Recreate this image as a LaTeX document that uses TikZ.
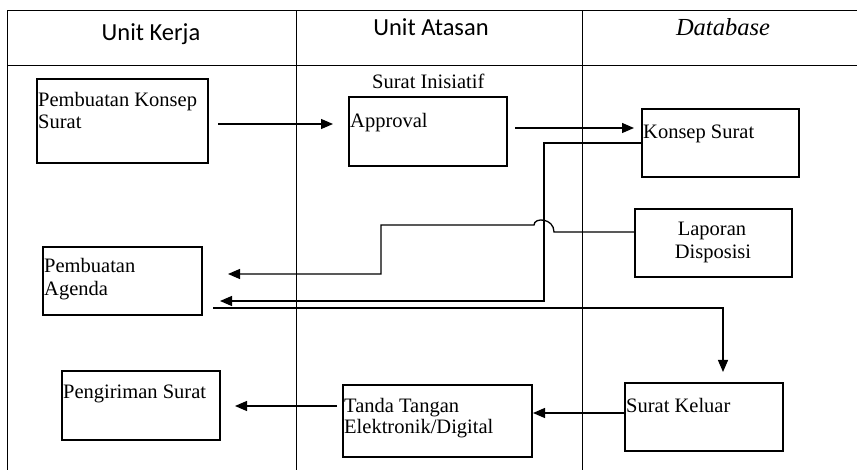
\documentclass[tikz,border=0pt]{standalone}
\usepackage{fontspec}
\setmainfont{Liberation Serif}
\newfontfamily\hdrfont{Carlito}
\usetikzlibrary{calc,arrows.meta}
\begin{document}
\begin{tikzpicture}[x=1pt,y=-1pt,
  box/.style={draw,line width=1.2pt,inner sep=0pt,outer sep=0pt},
  txt/.style={inner sep=0pt,anchor=base west,font=\fontsize{20.5}{23}\selectfont},
  txtc/.style={inner sep=0pt,anchor=base,font=\fontsize{20.5}{23}\selectfont},
  hdr/.style={inner sep=0pt,anchor=base,font=\hdrfont\fontsize{24.5}{28}\selectfont},
  hdri/.style={inner sep=0pt,anchor=base,font=\itshape\fontsize{24.5}{28}\selectfont},
  frame/.style={line width=1pt},
  conn/.style={line width=1.3pt},
  arr/.style={conn,-{Triangle[length=12pt,width=10pt]}}]
\useasboundingbox (0,0) rectangle (857,470);
% swimlane frame
\draw[frame] (7,11) -- (857,11);
\draw[frame] (7,66) -- (857,66);
\draw[frame] (7,11) -- (7,470);
\draw[frame] (296,11) -- (296,470);
\draw[frame] (582,11) -- (582,470);
\node[hdr] (h1) at (151,41) {Unit Kerja};
\node[hdr] (h2) at (431,36) {Unit Atasan};
\node[hdri] (h3) at (723,36) {Database};
% boxes
\node[box,minimum width=171pt,minimum height=84pt] (pk) at (122.5,121) {};
\node[box,minimum width=158pt,minimum height=69pt] (ap) at (428,131.5) {};
\node[box,minimum width=157pt,minimum height=68pt] (ks) at (720.5,143) {};
\node[box,minimum width=157pt,minimum height=68pt] (ld) at (713.5,243) {};
\node[box,minimum width=159pt,minimum height=68pt] (pa) at (122.5,281) {};
\node[box,minimum width=158pt,minimum height=69pt] (ps) at (141,405.5) {};
\node[box,minimum width=189pt,minimum height=72pt] (tt) at (437.5,421) {};
\node[box,minimum width=158pt,minimum height=68pt] (sk) at (704,417) {};
% texts
\node[txt] (pkt1) at (38,107) {Pembuatan Konsep};
\node[txt] (pkt2) at (38,129) {Surat};
\node[txt] (sit) at (372,89) {Surat Inisiatif};
\node[txt] (apt) at (350,128) {Approval};
\node[txt] (kst) at (643,139) {Konsep Surat};
\node[txtc] (ldt1) at (712,236) {Laporan};
\node[txtc] (ldt2) at (713,259) {Disposisi};
\node[txt] (pat1) at (44,273) {Pembuatan};
\node[txt] (pat2) at (44,296) {Agenda};
\node[txt] (pst) at (63,398) {Pengiriman Surat};
\node[txt] (ttt1) at (344,412) {Tanda Tangan};
\node[txt] (ttt2) at (344,433) {Elektronik/Digital};
\node[txt] (skt) at (626,412) {Surat Keluar};
% connectors
\draw[arr] ($(pk.east)+(10,3)$) -- ($(pk.east -| ap.west)+(-16,3)$);
\draw[arr] ($(ap.east)+(8,-3.5)$) -- ($(ap.east -| ks.west)+(-8,-3.5)$);
\coordinate (kv) at ($(ks.west)+(-98,0)$);
\draw[arr] (ks.west) -- (kv) |- ($(pa.east)+(18,20)$);
\coordinate (hr) at ($(kv |- ld.west)+(10,-11)$);
\coordinate (hl) at ($(kv |- ld.west)+(-10,-18)$);
\coordinate (lv) at ($(pa.east)+(179,0)$);
\draw[arr] ($(ld.west)+(0,-11)$) -- (hr) .. controls +(0,-14) and +(0,-8) .. (hl)
  -- (lv |- hl) |- ($(pa.east)+(26,-7)$);
\draw[arr] ($(pa.east)+(11,27)$) -| ($(sk.north)+(19,-11)$);
\draw[arr] ($(sk.west)+(0,-4)$) -- ($(tt.east |- sk.west)+(1,-4)$);
\draw[arr] ($(tt.west)+(-6,-15)$) -- ($(ps.east |- tt.west)+(15,-15)$);
\end{tikzpicture}
\end{document}
